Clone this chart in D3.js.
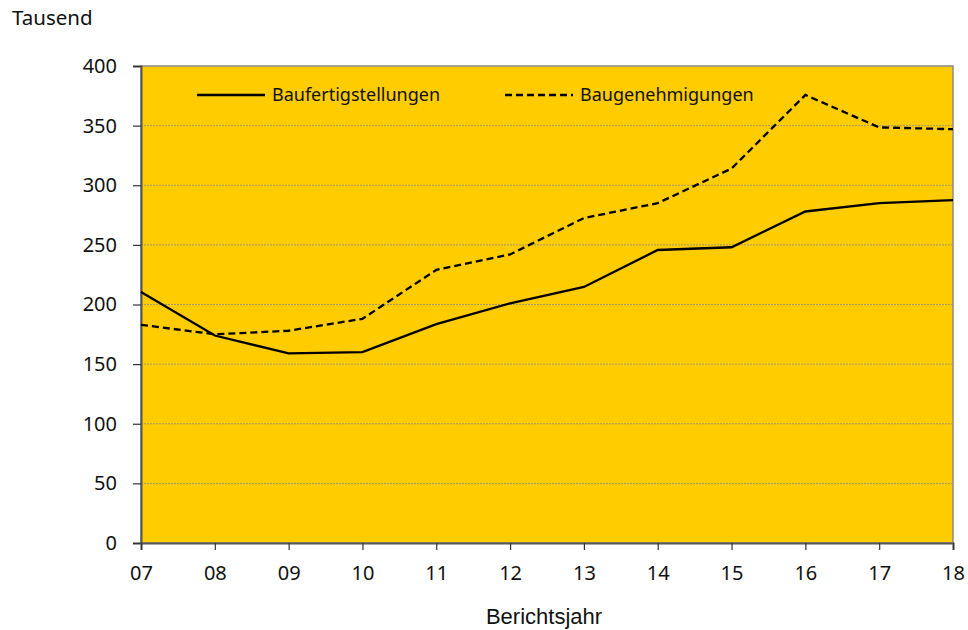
<!DOCTYPE html>
<html>
<head>
<meta charset="utf-8">
<script src="https://cdn.jsdelivr.net/npm/d3@7"></script>
<style>
  body { margin: 0; background: #fff; }
  svg { display: block; }
</style>
</head>
<body>
<svg></svg>
<script>
// Data
const years = ['07', '08', '09', '10', '11', '12', '13', '14', '15', '16', '17', '18'];
const fertigstellungen = [210.5, 174, 159, 160, 183.5, 201, 214.7, 245.7, 248, 278, 285, 287.6];
const genehmigungen = [183, 175, 178, 188, 229, 242, 272.5, 285, 314, 375.7, 348.5, 347];
const yTicks = [0, 50, 100, 150, 200, 250, 300, 350, 400];

// Constants
const width = 968;
const height = 630;
const plotLeft = 141;
const plotRight = 953;
const plotTop = 66;
const plotBottom = 543;

const tickFont = '"Noto Sans", "Open Sans", sans-serif';

const svg = d3.select('svg')
    .attr('width', width)
    .attr('height', height);

const x = d3.scalePoint()
    .domain(years)
    .range([plotLeft, plotRight]);

const y = d3.scaleLinear()
    .domain([0, 400])
    .range([plotBottom, plotTop]);

// plot background
svg.append('rect')
    .attr('x', plotLeft)
    .attr('y', plotTop)
    .attr('width', plotRight - plotLeft)
    .attr('height', plotBottom - plotTop)
    .attr('fill', '#FFCC00')
    .attr('stroke', '#8c8c8c')
    .attr('stroke-width', 1.5);

// grid
svg.append('g')
    .selectAll('line')
    .data(yTicks.filter(d => d > 0 && d < 400)).enter()
    .append('line')
    .attr('x1', plotLeft)
    .attr('x2', plotRight)
    .attr('y1', d => y(d))
    .attr('y2', d => y(d))
    .attr('stroke', '#8a8a8a')
    .attr('stroke-width', 0.8)
    .attr('stroke-dasharray', '2,1');

// yAxis
const yAxis = d3.axisLeft(y)
    .tickValues(yTicks)
    .tickSize(8)
    .tickPadding(16);

const gy = svg.append('g')
    .attr('transform', `translate(${plotLeft}, 0)`)
    .call(yAxis);
gy.select('.domain').attr('stroke', '#555').attr('stroke-width', 2);
gy.selectAll('.tick line').attr('stroke', '#333').attr('stroke-width', 1.2);
gy.selectAll('text')
    .attr('font-family', tickFont)
    .attr('font-size', 20)
    .attr('fill', '#111');

// xAxis
const xAxis = d3.axisBottom(x)
    .tickSize(7)
    .tickPadding(16);

const gx = svg.append('g')
    .attr('transform', `translate(0, ${plotBottom})`)
    .call(xAxis);
gx.select('.domain').attr('stroke', '#555').attr('stroke-width', 2);
gx.selectAll('.tick line').attr('stroke', '#333').attr('stroke-width', 1.2);
gx.selectAll('text')
    .attr('font-family', tickFont)
    .attr('font-size', 20)
    .attr('fill', '#111');

// lines
const line = d3.line()
    .x((d, i) => x(years[i]))
    .y(d => y(d));

svg.append('path')
    .datum(genehmigungen)
    .attr('fill', 'none')
    .attr('stroke', '#000')
    .attr('stroke-width', 2.3)
    .attr('stroke-dasharray', '7,4')
    .attr('d', line);

svg.append('path')
    .datum(fertigstellungen)
    .attr('fill', 'none')
    .attr('stroke', '#000')
    .attr('stroke-width', 2.3)
    .attr('d', line);

// legend
const legendItems = [
    { name: 'Baufertigstellungen', x: 197, dash: null },
    { name: 'Baugenehmigungen', x: 505, dash: '7,4' }
];

const legend = svg.append('g');
legend.selectAll('line')
    .data(legendItems).enter()
    .append('line')
    .attr('x1', d => d.x)
    .attr('x2', d => d.x + 68)
    .attr('y1', 95)
    .attr('y2', 95)
    .attr('stroke', '#000')
    .attr('stroke-width', 2.3)
    .attr('stroke-dasharray', d => d.dash);

legend.selectAll('text')
    .data(legendItems).enter()
    .append('text')
    .attr('x', d => d.x + 75)
    .attr('y', 101)
    .attr('font-family', tickFont)
    .attr('font-size', 18)
    .attr('fill', '#111')
    .text(d => d.name);

// labels
svg.append('text')
    .attr('x', 12)
    .attr('y', 25)
    .attr('font-family', tickFont)
    .attr('font-size', 20.5)
    .attr('fill', '#111')
    .text('Tausend');

svg.append('text')
    .attr('x', 544)
    .attr('y', 624)
    .attr('text-anchor', 'middle')
    .attr('font-family', '"Liberation Sans", Arial, sans-serif')
    .attr('font-size', 22)
    .attr('fill', '#111')
    .text('Berichtsjahr');
</script>
</body>
</html>
